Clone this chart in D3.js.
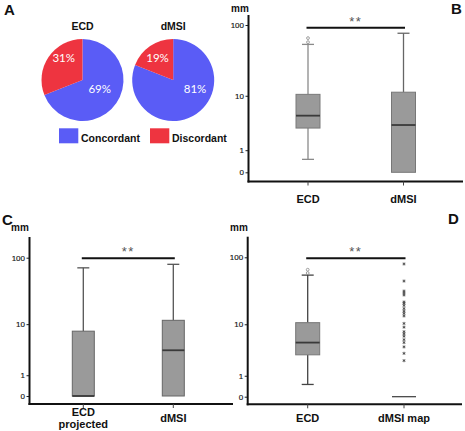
<!DOCTYPE html>
<html><head><meta charset="utf-8">
<script src="https://cdn.jsdelivr.net/npm/d3@7"></script>
<style>body{margin:0;background:#fff}svg{display:block}</style>
</head><body><svg id="c" width="465" height="431"></svg>
<script>
// ---------- DATA ----------
const pieCategories = ["Concordant", "Discordant"];
const pieTitles = ["ECD", "dMSI"];
const ecdPie = [69, 31];
const dmsiPie = [81, 19];

const yTicks = [0, 1, 10, 100];

// box stats: [min, q1, median, q3, max]
const bCategories = ["ECD", "dMSI"];
const bEcdBox = [0.5, 3.0, 4.9, 10.5, 54];
const bEcdOutliers = [58, 66];
const bDmsiBox = [0, 0, 3.4, 11.3, 77];

const cCategories = ["ECD|projected", "dMSI"];
const cEcdProjBox = [0, 0, 0, 7.7, 71];
const cDmsiBox = [0, 0, 3.6, 11.5, 80];

const dCategories = ["ECD", "dMSI map"];
const dEcdBox = [0.5, 3.0, 5.0, 10.6, 55];
const dEcdOutliers = [59, 66];
const dDmsiMapBox = [0, 0, 0, 0, 0];
const dDmsiMapPoints = [80, 45, 32, 30, 28, 22, 21, 19.5, 17.5, 16, 14.8, 13.5, 10.3, 9, 7.6, 7, 6.4, 5.6, 5, 4.2, 3.2, 2.3];

// ---------- DRAW ----------
const svg = d3.select("#c");
const FONT = "'Liberation Sans', Arial, sans-serif";
const blue = "#5a5cf6", red = "#ee3440";

// Panel letters
[["A", 4, 15], ["B", 451, 14], ["C", 2, 225], ["D", 448, 224]].forEach(([t, x, y]) => {
  svg.append("text").attr("x", x).attr("y", y).text(t)
    .attr("font-family", FONT).attr("font-weight", "bold").attr("font-size", 15).attr("fill", "#111");
});

// ---- Panel A: pies ----
const pies = [
  { title: pieTitles[0], values: ecdPie, cx: 82.5, cy: 80, offs: [[17.2, 9], [-18.8, -22.5]] },
  { title: pieTitles[1], values: dmsiPie, cx: 173.2, cy: 80, offs: [[21.8, 9], [-15.7, -22.5]] }
];
const pieGen = d3.pie().sort(null).value(d => d);
const arcGen = d3.arc().innerRadius(0).outerRadius(41);
const color = d3.scaleOrdinal().domain(pieCategories).range([blue, red]);
pies.forEach(p => {
  const g = svg.append("g").attr("transform", `translate(${p.cx},${p.cy})`);
  const arcs = pieGen(p.values);
  g.selectAll("path").data(arcs).enter().append("path")
    .attr("d", arcGen).attr("fill", (d, i) => color(pieCategories[i]));
  g.selectAll("text.pct").data(arcs).enter().append("text")
    .attr("x", (d, i) => p.offs[i][0]).attr("y", (d, i) => p.offs[i][1])
    .attr("text-anchor", "middle").attr("dy", "0.36em")
    .attr("font-family", "Lato, 'Open Sans', sans-serif").attr("font-size", 11.5)
    .attr("fill", "#fff").text(d => d.data + "%");
  svg.append("text").attr("x", p.cx).attr("y", 29.5).attr("text-anchor", "middle")
    .attr("font-family", FONT).attr("font-weight", "bold").attr("font-size", 10.5)
    .attr("fill", "#111").text(p.title);
});
// legend
const legX = [59, 150];
pieCategories.forEach((c, i) => {
  svg.append("rect").attr("x", legX[i]).attr("y", 128.3).attr("width", 19.3).attr("height", 15)
    .attr("fill", color(c));
  svg.append("text").attr("x", legX[i] + 22).attr("y", 141.8)
    .attr("font-family", FONT).attr("font-weight", "bold").attr("font-size", 10.5)
    .attr("fill", "#111").text(c);
});

// ---- Box panels ----
function boxPanel(cfg) {
  const y = d3.scaleSymlog().constant(1).domain([0, 100]).range([cfg.y0, cfg.y100]);
  const x = d3.scalePoint().domain(cfg.categories).range(cfg.centers);
  const g = svg.append("g");

  const ax = g.append("g").attr("transform", `translate(${cfg.axisX},0)`)
    .call(d3.axisLeft(y).tickValues(yTicks).tickSize(3).tickPadding(1.5).tickFormat(d3.format("d")));
  ax.select(".domain").remove();
  ax.selectAll("text").attr("font-family", FONT).attr("font-size", 8).attr("fill", "#111")
    .attr("stroke", "#111").attr("stroke-width", 0.15);
  ax.selectAll("line").attr("stroke", "#222");
  g.append("line").attr("x1", cfg.axisX).attr("x2", cfg.axisX).attr("y1", cfg.axisTop).attr("y2", cfg.xAxisY + 1)
    .attr("stroke", "#111").attr("stroke-width", 2);
  g.append("line").attr("x1", cfg.axisX - 1).attr("x2", cfg.xRight).attr("y1", cfg.xAxisY).attr("y2", cfg.xAxisY)
    .attr("stroke", "#111").attr("stroke-width", 2);
  cfg.categories.forEach(c => {
    g.append("line").attr("x1", x(c)).attr("x2", x(c)).attr("y1", cfg.xAxisY).attr("y2", cfg.xAxisY + 4)
      .attr("stroke", "#444").attr("stroke-width", 1);
    const lines = c.split("|");
    const t = g.append("text").attr("text-anchor", "middle")
      .attr("font-family", FONT).attr("font-weight", "bold").attr("font-size", 11).attr("fill", "#111");
    lines.forEach((l, i) => {
      t.append("tspan").attr("x", x(c)).attr("y", (lines.length > 1 ? cfg.labelY2 : cfg.labelY) + i * 11.5).text(l);
    });
  });
  g.append("text").attr("x", cfg.mmX).attr("y", cfg.mmY).attr("text-anchor", "middle")
    .attr("font-family", FONT).attr("font-weight", "bold").attr("font-size", 10).attr("fill", "#111").text("mm");

  cfg.boxes.forEach((b, i) => {
    const cx = x(cfg.categories[i]);
    const [mn, q1, md, q3, mx] = b.stats;
    const hw = cfg.boxW / 2;
    if (mx > q3) {
      g.append("line").attr("x1", cx).attr("x2", cx).attr("y1", y(q3)).attr("y2", y(mx)).attr("stroke", b.wc).attr("stroke-width", 1.3);
      g.append("line").attr("x1", cx - 6).attr("x2", cx + 6).attr("y1", y(mx)).attr("y2", y(mx)).attr("stroke", b.wc).attr("stroke-width", 1.3);
    }
    if (mn < q1) {
      g.append("line").attr("x1", cx).attr("x2", cx).attr("y1", y(q1)).attr("y2", y(mn)).attr("stroke", b.wc).attr("stroke-width", 1.3);
      g.append("line").attr("x1", cx - 6).attr("x2", cx + 6).attr("y1", y(mn)).attr("y2", y(mn)).attr("stroke", b.wc).attr("stroke-width", 1.3);
    }
    if (q3 > q1) {
      g.append("rect").attr("x", cx - hw).attr("y", y(q3)).attr("width", cfg.boxW).attr("height", y(q1) - y(q3))
        .attr("fill", "#9a9a9a").attr("stroke", b.bc).attr("stroke-width", 1);
    }
    g.append("line").attr("x1", cx - hw).attr("x2", cx + hw).attr("y1", y(md)).attr("y2", y(md))
      .attr("stroke", "#3a3a3a").attr("stroke-width", q3 > q1 ? 1.8 : 1.2);
    (b.outliers || []).forEach(o => {
      g.append("circle").attr("cx", cx).attr("cy", y(o)).attr("r", 1.4)
        .attr("fill", "none").attr("stroke", "#888").attr("stroke-width", 0.8);
    });
    (b.points || []).forEach(o => {
      g.append("path").attr("transform", `translate(${cx},${y(o)})`)
        .attr("d", d3.symbol(d3.symbolAsterisk, 7)()).attr("stroke", "#444").attr("stroke-width", 0.8).attr("fill", "none");
    });
  });

  const c1 = x(cfg.categories[0]), c2 = x(cfg.categories[1]);
  g.append("line").attr("x1", c1 - 1.5).attr("x2", c2 + 1.5).attr("y1", cfg.sigY).attr("y2", cfg.sigY)
    .attr("stroke", "#111").attr("stroke-width", 2);
  g.append("text").attr("x", (c1 + c2) / 2).attr("y", cfg.sigY - 2).attr("text-anchor", "middle")
    .attr("font-family", FONT).attr("font-size", 13).attr("fill", "#555").attr("letter-spacing", 1.5).text("**");
}

boxPanel({
  categories: bCategories, centers: [308, 403.5], axisX: 248.5, axisTop: 15, xAxisY: 181.5, xRight: 463,
  y0: 172.3, y100: 25, sigY: 27.7, labelY: 203, labelY2: 203, mmX: 240, mmY: 12, boxW: 24,
  boxes: [
    { stats: bEcdBox, outliers: bEcdOutliers, wc: "#8a8a8a", bc: "#7a7a7a" },
    { stats: bDmsiBox, wc: "#666", bc: "#777" }
  ]
});
boxPanel({
  categories: cCategories, centers: [83.3, 173.3], axisX: 29.5, axisTop: 237, xAxisY: 404, xRight: 233,
  y0: 396, y100: 257.7, sigY: 258.3, labelY: 422.3, labelY2: 416, mmX: 20, mmY: 231, boxW: 22,
  boxes: [
    { stats: cEcdProjBox, wc: "#555", bc: "#666" },
    { stats: cDmsiBox, wc: "#555", bc: "#666" }
  ]
});
boxPanel({
  categories: dCategories, centers: [307.7, 404], axisX: 247.7, axisTop: 236.7, xAxisY: 404.3, xRight: 462,
  y0: 396.7, y100: 257.3, sigY: 258.3, labelY: 422.3, labelY2: 422.3, mmX: 239, mmY: 231, boxW: 24,
  boxes: [
    { stats: dEcdBox, outliers: dEcdOutliers, wc: "#444", bc: "#777" },
    { stats: dDmsiMapBox, points: dDmsiMapPoints, wc: "#444", bc: "#666" }
  ]
});
</script></body></html>
